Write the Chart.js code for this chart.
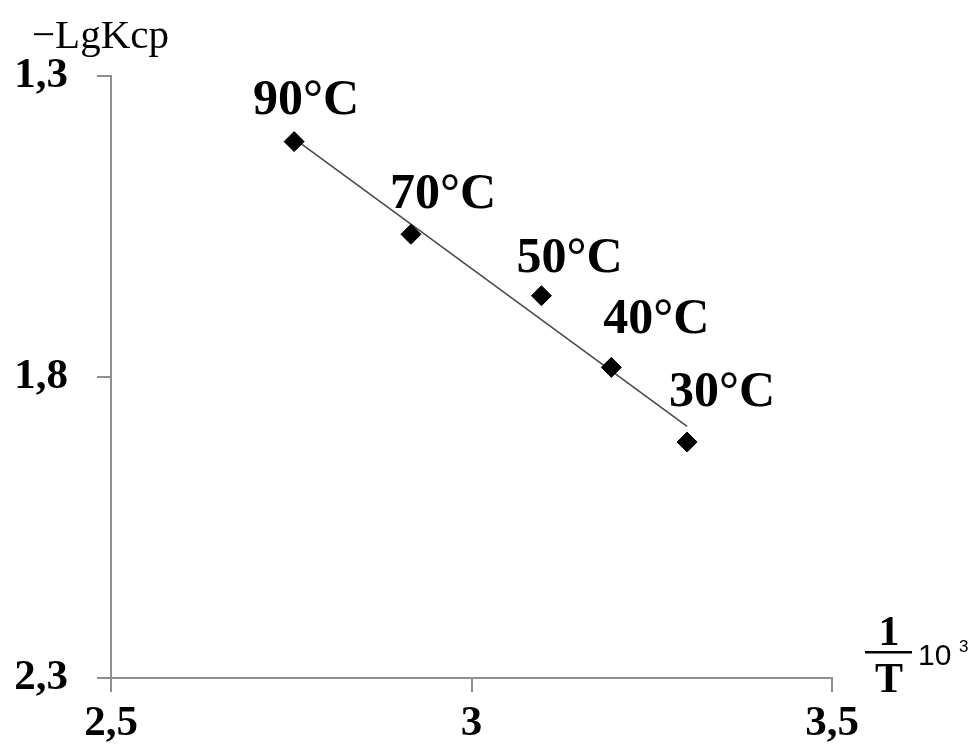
<!DOCTYPE html>
<html>
<head>
<meta charset="utf-8">
<script src="https://cdn.jsdelivr.net/npm/chart.js@4.4.1/dist/chart.umd.min.js"></script>
<style>
  html, body { margin: 0; padding: 0; background: #fff; }
  #wrap { width: 973px; height: 754px; }
</style>
</head>
<body>
<div id="wrap"><canvas id="chart" width="973" height="754"></canvas></div>
<script>
// values
const invT = [2.754, 2.916, 3.097, 3.194, 3.299];
const lgK = [1.409, 1.563, 1.665, 1.784, 1.908];
const temps = ['90°C', '70°C', '50°C', '40°C', '30°C'];
const trendX = [2.754, 3.299];
const trendY = [1.404, 1.882];
const xTicks = [2.5, 3, 3.5];
const yTicks = [1.3, 1.8, 2.3];

// where each temperature label sits relative to its point (px)
const labelOffsets = [[12, -41], [32, -39], [28, -37], [45, -47], [35, -49]];

const serif = '"Liberation Serif", "Times New Roman", serif';
const axisGrey = '#8e8e8e';

const labelsPlugin = {
  id: 'labels',
  afterDraw(chart) {
    const ctx = chart.ctx;
    const xs = chart.scales.x, ys = chart.scales.y;
    ctx.save();
    ctx.fillStyle = '#000';
    ctx.font = 'bold 50px ' + serif;
    ctx.textAlign = 'center';
    ctx.textBaseline = 'middle';
    invT.forEach((v, i) => {
      const px = xs.getPixelForValue(v);
      const py = ys.getPixelForValue(lgK[i]);
      ctx.fillText(temps[i], px + labelOffsets[i][0], py + labelOffsets[i][1]);
    });

    // y axis name
    ctx.textAlign = 'left';
    ctx.textBaseline = 'alphabetic';
    ctx.font = '41px ' + serif;
    ctx.fillText('\u2212LgKcp', 32, 48);

    // x axis name: 1/T 10^3
    const fx = 889;
    ctx.textAlign = 'center';
    ctx.font = 'bold 42px ' + serif;
    ctx.fillText('1', fx, 645);
    ctx.fillText('T', fx, 692);
    ctx.fillRect(865, 651, 47, 2.5);
    ctx.textAlign = 'left';
    ctx.font = '30px "Liberation Sans", Arial, sans-serif';
    ctx.fillText('10', 918, 665);
    ctx.font = '17px "Liberation Sans", Arial, sans-serif';
    ctx.fillText('3', 959, 652);
    ctx.restore();
  }
};

new Chart(document.getElementById('chart'), {
  type: 'scatter',
  data: {
    datasets: [
      {
        data: invT.map((x, i) => ({ x, y: lgK[i] })),
        pointStyle: 'rectRot',
        pointRadius: 10,
        pointBackgroundColor: '#000',
        pointBorderColor: '#000',
        pointBorderWidth: 1,
        showLine: false,
        order: 1
      },
      {
        type: 'line',
        data: trendX.map((x, i) => ({ x, y: trendY[i] })),
        borderColor: '#4a4a4a',
        borderWidth: 1.6,
        pointRadius: 0,
        fill: false,
        order: 2
      }
    ]
  },
  options: {
    responsive: false,
    animation: false,
    layout: { padding: { left: 0, top: 76, right: 141, bottom: 0 } },
    plugins: { legend: { display: false }, tooltip: { enabled: false } },
    scales: {
      x: {
        type: 'linear',
        min: 2.5,
        max: 3.5,
        afterBuildTicks: s => { s.ticks = xTicks.map(v => ({ value: v })); },
        afterFit: s => { s.height = 76; },
        grid: { drawOnChartArea: false, drawTicks: true, tickLength: 14, color: axisGrey, lineWidth: 2 },
        border: { color: axisGrey, width: 2 },
        ticks: {
          color: '#000',
          padding: 6,
          font: { family: serif, size: 43, weight: 'bold' },
          callback: v => String(v).replace('.', ',')
        }
      },
      y: {
        type: 'linear',
        reverse: true,
        min: 1.3,
        max: 2.3,
        afterBuildTicks: s => { s.ticks = yTicks.map(v => ({ value: v })); },
        afterFit: s => { s.width = 111; },
        grid: { drawOnChartArea: false, drawTicks: true, tickLength: 14, color: axisGrey, lineWidth: 2 },
        border: { color: axisGrey, width: 2 },
        ticks: {
          color: '#000',
          padding: 29,
          font: { family: serif, size: 43, weight: 'bold' },
          callback: v => String(v).replace('.', ',')
        }
      }
    }
  },
  plugins: [labelsPlugin]
});
</script>
</body>
</html>
